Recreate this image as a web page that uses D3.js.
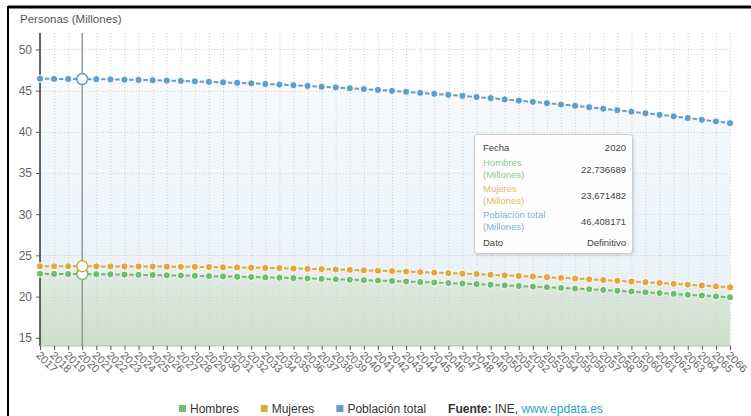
<!DOCTYPE html>
<html>
<head>
<meta charset="utf-8">
<script src="https://cdn.jsdelivr.net/npm/d3@7"></script>
<style>
  html, body { margin: 0; padding: 0; background: #fff; }
  svg { display: block; font-family: "Liberation Sans", Arial, sans-serif; }
</style>
</head>
<body>
<svg id="chart" width="751" height="416"></svg>
<script>
// Proyección de población de España (millones de personas)
const years = ["2017","2018","2019","2020","2021","2022","2023","2024","2025","2026",
  "2027","2028","2029","2030","2031","2032","2033","2034","2035","2036",
  "2037","2038","2039","2040","2041","2042","2043","2044","2045","2046",
  "2047","2048","2049","2050","2051","2052","2053","2054","2055","2056",
  "2057","2058","2059","2060","2061","2062","2063","2064","2065","2066"];

const hombres = [22.76, 22.75, 22.74, 22.736689, 22.72, 22.70, 22.67, 22.64, 22.62, 22.58,
  22.56, 22.52, 22.48, 22.45, 22.41, 22.38, 22.33, 22.29, 22.25, 22.20,
  22.15, 22.10, 22.05, 22.00, 21.95, 21.89, 21.83, 21.77, 21.71, 21.64,
  21.58, 21.51, 21.44, 21.36, 21.29, 21.21, 21.13, 21.05, 20.97, 20.89,
  20.80, 20.71, 20.62, 20.52, 20.43, 20.33, 20.23, 20.13, 20.02, 19.92];

const mujeres = [23.69, 23.68, 23.68, 23.671482, 23.67, 23.66, 23.66, 23.66, 23.65, 23.64,
  23.62, 23.61, 23.59, 23.56, 23.54, 23.51, 23.48, 23.45, 23.41, 23.37,
  23.33, 23.29, 23.24, 23.19, 23.14, 23.09, 23.03, 22.97, 22.91, 22.85,
  22.78, 22.72, 22.65, 22.58, 22.50, 22.43, 22.35, 22.27, 22.19, 22.10,
  22.01, 21.92, 21.83, 21.74, 21.64, 21.55, 21.45, 21.34, 21.24, 21.13];

const total = [46.45, 46.43, 46.42, 46.408171, 46.39, 46.36, 46.33, 46.30, 46.27, 46.22,
  46.18, 46.13, 46.07, 46.01, 45.95, 45.89, 45.81, 45.74, 45.66, 45.57,
  45.48, 45.39, 45.29, 45.19, 45.09, 44.98, 44.86, 44.74, 44.62, 44.49,
  44.36, 44.23, 44.09, 43.94, 43.79, 43.64, 43.48, 43.32, 43.16, 42.99,
  42.81, 42.63, 42.45, 42.26, 42.07, 41.88, 41.68, 41.47, 41.26, 41.05];

const yTicks = [15, 20, 25, 30, 35, 40, 45, 50];
const seriesNames = ["Hombres", "Mujeres", "Población total"];
const seriesColors = ["#6dbf6f", "#e1a93d", "#5d9ecb"];
const focusYear = "2020";
const focusStatus = "Definitivo";
const axisTitle = "Personas (Millones)";

const series = [
  { name: seriesNames[0], color: seriesColors[0], values: hombres },
  { name: seriesNames[1], color: seriesColors[1], values: mujeres },
  { name: seriesNames[2], color: seriesColors[2], values: total }
];

const svg = d3.select("#chart");
const plotLeft = 40, plotRight = 730, plotTop = 33, plotBottom = 346;

const x = d3.scalePoint().domain(years).range([plotLeft, plotRight]);
const y = d3.scaleLinear().domain([14, 52]).range([plotBottom, plotTop]);

// outer frame (top and left edges)
svg.append("line").attr("x1", 8).attr("x2", 751).attr("y1", 7).attr("y2", 7)
  .attr("stroke", "#000").attr("stroke-width", 3);
svg.append("line").attr("x1", 8).attr("x2", 8).attr("y1", 6).attr("y2", 416)
  .attr("stroke", "#000").attr("stroke-width", 2);

// gradients for the filled areas
const defs = svg.append("defs");
function grad(id, color, y1, y2, o1, o2) {
  const g = defs.append("linearGradient").attr("id", id)
    .attr("gradientUnits", "userSpaceOnUse")
    .attr("x1", 0).attr("x2", 0).attr("y1", y1).attr("y2", y2);
  g.append("stop").attr("offset", 0).attr("stop-color", color).attr("stop-opacity", o1);
  g.append("stop").attr("offset", 1).attr("stop-color", color).attr("stop-opacity", o2);
}
grad("g-total", seriesColors[2], plotTop, plotBottom, 0.03, 0.16);
grad("g-muj", seriesColors[1], 260, plotBottom, 0.05, 0.12);
grad("g-hom", seriesColors[0], 270, plotBottom, 0.07, 0.2);
const shadow = defs.append("filter").attr("id", "shadow")
  .attr("x", "-10%").attr("y", "-10%").attr("width", "130%").attr("height", "130%");
shadow.append("feDropShadow").attr("dx", 1).attr("dy", 1).attr("stdDeviation", 1.5)
  .attr("flood-color", "#000").attr("flood-opacity", 0.15);

const area = vals => d3.area()
  .x((d, i) => x(years[i]))
  .y0(plotBottom)
  .y1(d => y(d))(vals);

svg.append("path").attr("d", area(total)).attr("fill", "url(#g-total)");
svg.append("path").attr("d", area(mujeres)).attr("fill", "url(#g-muj)");
svg.append("path").attr("d", area(hombres)).attr("fill", "url(#g-hom)");

// grid
const grid = svg.append("g").attr("stroke", "#d2d2d2").attr("stroke-dasharray", "1,2");
grid.selectAll("line.v").data(years).join("line").attr("class", "v")
  .attr("x1", d => x(d) + 0.5).attr("x2", d => x(d) + 0.5)
  .attr("y1", plotTop).attr("y2", plotBottom);
grid.selectAll("line.h").data(yTicks).join("line").attr("class", "h")
  .attr("x1", plotLeft).attr("x2", plotRight)
  .attr("y1", d => Math.round(y(d)) + 0.5).attr("y2", d => Math.round(y(d)) + 0.5);

// y axis
const yAxis = svg.append("g").attr("transform", `translate(${plotLeft},0)`)
  .call(d3.axisLeft(y).tickValues(yTicks).tickSize(4).tickPadding(4));
yAxis.select(".domain").attr("stroke", "#333").attr("stroke-width", 1.5)
  .attr("d", `M0,${plotTop}V${plotBottom}`);
yAxis.selectAll(".tick line").attr("stroke", "#555");
yAxis.selectAll(".tick text").attr("fill", "#666").attr("font-size", 12)
  .attr("font-family", "Liberation Sans, Arial, sans-serif");

// x axis
const xAxis = svg.append("g").attr("transform", `translate(0,${plotBottom})`)
  .call(d3.axisBottom(x).tickSize(4).tickPadding(0));
xAxis.select(".domain").attr("stroke", "#bbb").attr("d", `M${plotLeft},0H${plotRight}`);
xAxis.selectAll(".tick line").attr("stroke", "#555");
xAxis.selectAll(".tick text")
  .attr("fill", "#666").attr("font-size", 11)
  .attr("font-family", "Liberation Sans, Arial, sans-serif")
  .attr("text-anchor", "start").attr("dy", null).attr("y", 0)
  .attr("transform", "translate(-5,10) rotate(45)");

// axis title
svg.append("text").attr("x", 20).attr("y", 23).attr("fill", "#555")
  .attr("font-size", 11.5).text(axisTitle);

// focus line
const fx = x(focusYear);
svg.append("line").attr("x1", fx).attr("x2", fx).attr("y1", plotTop).attr("y2", plotBottom)
  .attr("stroke", "#999").attr("stroke-width", 1.5);

// series lines and dots
const fi = years.indexOf(focusYear);
series.forEach(s => {
  const pts = s.values.map((v, i) => [x(years[i]), y(v)]);
  const segs = d3.pairs(pts);
  const g = svg.append("g");
  g.selectAll("line").data(segs).join("line")
    .attr("x1", d => d[0][0]).attr("y1", d => d[0][1])
    .attr("x2", d => d[1][0]).attr("y2", d => d[1][1])
    .attr("stroke", s.color).attr("stroke-width", 2)
    .attr("stroke-dasharray", d => {
      const len = Math.hypot(d[1][0] - d[0][0], d[1][1] - d[0][1]);
      const dash = 4.5;
      const gap = (len - dash) / 2;
      return `0,${gap},${dash},${gap}`;
    });
  g.selectAll("circle").data(pts.filter((p, i) => i !== fi)).join("circle")
    .attr("cx", d => d[0]).attr("cy", d => d[1]).attr("r", 3.6)
    .attr("fill", s.color).attr("stroke", "#fff").attr("stroke-width", 1);
});
series.forEach(s => {
  svg.append("circle").attr("cx", fx).attr("cy", y(s.values[fi])).attr("r", 5.5)
    .attr("fill", "#fff").attr("stroke", s.color).attr("stroke-width", 1.5);
});

// tooltip
const fmt = v => v.toFixed(6).replace(".", ",");
const tip = svg.append("g").attr("font-size", 9.5);
tip.append("rect").attr("x", 474.5).attr("y", 134.5).attr("width", 158).attr("height", 119)
  .attr("rx", 3).attr("fill", "#fff").attr("fill-opacity", 0.96)
  .attr("stroke", "#ccc").attr("filter", "url(#shadow)");
const tl = 483, tr = 626;
tip.append("text").attr("x", tl).attr("y", 150.5).attr("fill", "#444").text("Fecha");
tip.append("text").attr("x", tr).attr("y", 150.5).attr("fill", "#444")
  .attr("text-anchor", "end").text(focusYear);
const rowTops = [165.5, 191.5, 218];
series.forEach((s, k) => {
  const yy = rowTops[k];
  tip.append("text").attr("x", tl).attr("y", yy).attr("fill", s.color).attr("fill-opacity", 0.85).text(s.name);
  tip.append("text").attr("x", tl).attr("y", yy + 12).attr("fill", s.color).attr("fill-opacity", 0.85).text("(Millones)");
  tip.append("text").attr("x", tr).attr("y", yy + 7).attr("fill", "#444")
    .attr("text-anchor", "end").text(fmt(s.values[fi]));
});
tip.append("text").attr("x", tl).attr("y", 246).attr("fill", "#444").text("Dato");
tip.append("text").attr("x", tr).attr("y", 246).attr("fill", "#444")
  .attr("text-anchor", "end").text(focusStatus);

// legend and source
const legend = svg.append("g").attr("font-size", 12);
let lx = 179;
const ly = 413;
series.forEach(s => {
  legend.append("rect").attr("x", lx).attr("y", ly - 8).attr("width", 7).attr("height", 7)
    .attr("fill", s.color);
  const t = legend.append("text").attr("x", lx + 11).attr("y", ly).attr("fill", "#333").text(s.name);
  lx += 11 + t.node().getComputedTextLength() + 22;
});
const src = legend.append("text").attr("x", lx).attr("y", ly).attr("fill", "#333");
src.append("tspan").attr("font-weight", "bold").text("Fuente: ");
src.append("tspan").text("INE, ");
src.append("tspan").attr("fill", "#2aa5c8").text("www.epdata.es");
</script>
</body>
</html>
